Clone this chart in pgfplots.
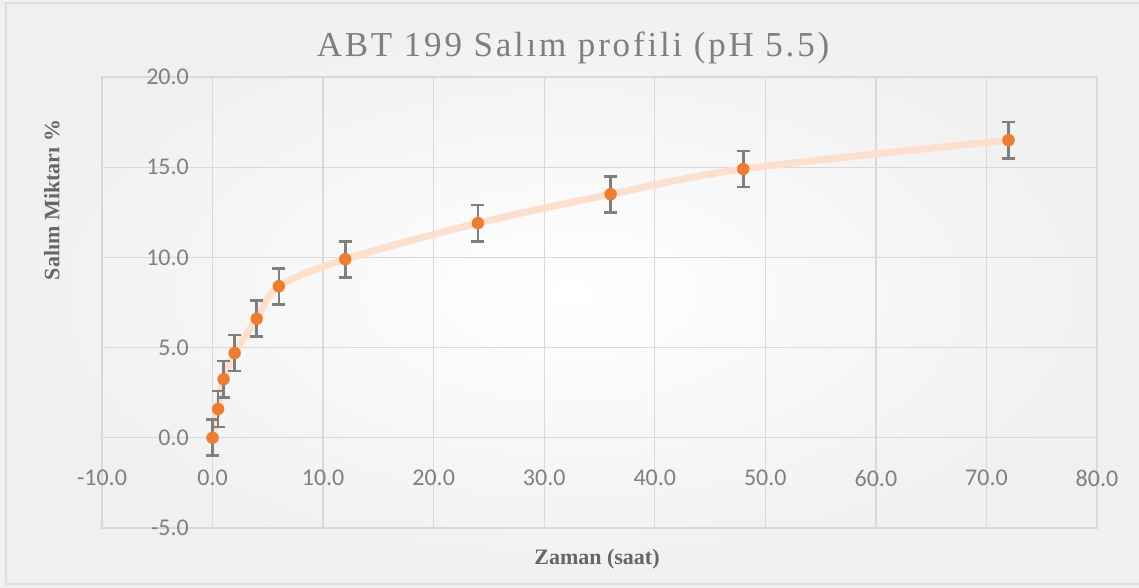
\documentclass[border=0pt]{standalone}
\usepackage{fontspec}
\setmainfont{Liberation Serif}
\newfontfamily\titlefont[LetterSpace=8]{Liberation Serif}
\newfontfamily\tickfont{Carlito}
\usepackage{pgfplots}
\pgfplotsset{compat=1.18}
\definecolor{gridc}{HTML}{D9D9D9}
\definecolor{ticktext}{HTML}{808080}
\definecolor{labtext}{HTML}{7F7F7F}
\definecolor{orng}{HTML}{ED7D31}
\definecolor{peach}{HTML}{FCE0CE}
\definecolor{ebar}{HTML}{7F7F7F}
\begin{document}
\begin{tikzpicture}
\useasboundingbox (0,0) rectangle (1139pt,587pt);
\shade[inner color=white, outer color=black!6] (0,0) rectangle (1139pt,587pt);
\draw[draw=black!13, line width=2pt] (6pt,3pt) rectangle (1160pt,584pt);
\begin{axis}[
  at={(102pt,59pt)}, anchor=south west,
  scale only axis, width=995pt, height=451pt,
  xmin=-10, xmax=80, ymin=-5, ymax=20,
  xtick={-10,0,...,80}, ytick={-5,0,...,20},
  grid=major,
  major grid style={draw=gridc, line width=1.3pt},
  axis line style={draw=gridc, line width=1.3pt},
  major tick length=0pt,
  /pgf/number format/.cd, fixed, fixed zerofill, precision=1, assume math mode=true,
  /pgfplots/.cd,
  tick label style={font=\tickfont\fontsize{24}{24}\selectfont, text=ticktext, inner sep=0pt},
  xticklabel style={anchor=north, yshift=58pt},
  yticklabel style={anchor=east, xshift=87pt},
  clip=false,
]
\addplot[peach, line width=7pt, smooth, tension=0.5, line cap=round] coordinates {
 (0,0) (0.5,1.6) (1,3.25) (2,4.7) (4,6.6) (6,8.4) (12,9.9) (24,11.9) (36,13.5) (48,14.9) (72,16.5)};
\addplot[only marks, mark=*, mark size=6pt, mark options={fill=orng, draw=orng},
  error bars/.cd, y dir=both, y explicit,
  error bar style={ebar, line width=2.7pt},
  error mark options={rotate=90, ebar, mark size=6.5pt, line width=2.7pt}]
  table[x=x, y=y, y error=e] {
x y e
0 0 1
0.5 1.6 1
1 3.25 1
2 4.7 1
4 6.6 1
6 8.4 1
12 9.9 1
24 11.9 1
36 13.5 1
48 14.9 1
72 16.5 1
};
\end{axis}
\node[anchor=base, text=labtext, inner sep=0pt] at (573pt,530pt) {\titlefont\fontsize{35}{35}\selectfont ABT 199 Salım profili (pH 5.5)};
\node[rotate=90, text=black!60, inner sep=0pt] at (52pt,387pt) {\fontsize{22}{22}\selectfont\bfseries Salım Miktarı \%};
\node[text=black!60, inner sep=0pt] at (597pt,28pt) {\fontsize{22}{22}\selectfont\bfseries Zaman (saat)};
\end{tikzpicture}
\end{document}
